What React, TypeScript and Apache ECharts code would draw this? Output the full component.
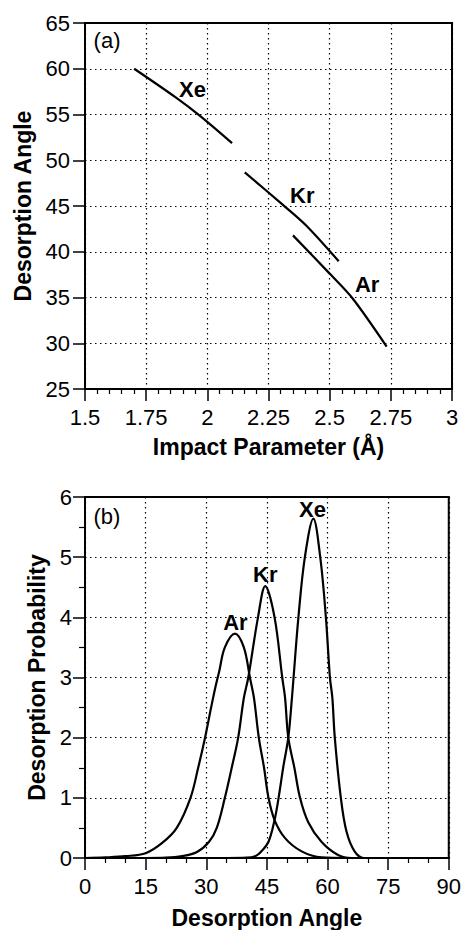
import React, { useEffect, useRef } from 'react';
import * as echarts from 'echarts';

// ---- Panel (a): desorption angle vs impact parameter ----
const impactTicks = [1.5, 1.75, 2, 2.25, 2.5, 2.75, 3];
const angleTicksA = [25, 30, 35, 40, 45, 50, 55, 60, 65];

const xeImpact = [1.701, 1.868, 1.97, 2.101];
const xeAngle = [60, 56.92, 54.85, 51.87];
const krImpact = [2.153, 2.309, 2.404, 2.537];
const krAngle = [48.68, 45.12, 42.87, 38.96];
const arImpact = [2.35, 2.5, 2.594, 2.733];
const arAngle = [41.79, 37.61, 34.89, 29.63];

const labelsA = ['(a)', 'Xe', 'Kr', 'Ar'];
const labelsAX = [1.59, 1.939, 2.388, 2.653];
const labelsAY = [63.04, 57.74, 46.2, 36.4];

// ---- Panel (b): desorption probability vs desorption angle ----
const angleTicksB = [0, 15, 30, 45, 60, 75, 90];
const probTicks = [0, 1, 2, 3, 4, 5, 6];

const arAngleB = [0, 5, 10, 15, 19.1, 22.7, 26.1, 28.0, 29.7, 31.2, 32.3, 33.2, 34.6, 37.1, 39.3, 40.8, 41.8, 43.0, 44.3, 45.4, 46.9, 49.5, 53.6, 58.5, 65, 90];
const arProb = [0, 0.01, 0.03, 0.08, 0.25, 0.5, 1.0, 1.5, 2.0, 2.5, 2.85, 3.1, 3.5, 3.73, 3.5, 3.0, 2.66, 2.0, 1.5, 1.0, 0.63, 0.33, 0.11, 0.01, 0, 0];

const krAngleB = [0, 15, 20, 24, 27.7, 30.7, 32.6, 34.6, 36.3, 37.9, 39.3, 40.4, 42.8, 44.6, 46.9, 48.8, 49.5, 50.3, 51.8, 53.2, 55.2, 58.5, 62.6, 66, 90];
const krProb = [0, 0, 0.005, 0.03, 0.1, 0.27, 0.5, 1.0, 1.5, 2.0, 2.66, 3.0, 4.0, 4.52, 4.0, 3.0, 2.66, 2.0, 1.5, 1.0, 0.6, 0.27, 0.05, 0, 0];

const xeAngleB = [0, 35, 40, 42.1, 43.5, 45.4, 46.9, 47.9, 49.1, 50.3, 51.2, 51.6, 52.8, 54.4, 56.5, 58.2, 59.6, 60.6, 61.2, 61.8, 63.3, 64.7, 66.7, 69, 90];
const xeProb = [0, 0, 0.005, 0.03, 0.1, 0.27, 0.63, 1.0, 1.53, 2.0, 2.66, 3.0, 4.0, 5.0, 5.64, 5.0, 4.0, 3.0, 2.66, 2.0, 1.0, 0.44, 0.11, 0, 0];

const labelsB = ['(b)', 'Ar', 'Kr', 'Xe'];
const labelsBX = [5.4, 37.2, 44.6, 56.3];
const labelsBY = [5.68, 3.92, 4.72, 5.8];

const FONT = '"Liberation Sans", Arial, Helvetica, sans-serif';

const zip = (xs: number[], ys: number[]) => xs.map((x, i) => [x, ys[i]]);

function axisCommon(ticks: number[], minorSplit: number, minorLen: number, labelMargin: number) {
  return {
    type: 'value',
    min: ticks[0],
    max: ticks[ticks.length - 1],
    interval: ticks[1] - ticks[0],
    axisLine: { show: true, onZero: false, lineStyle: { color: '#000', width: 2 } },
    axisTick: { show: true, length: 12, lineStyle: { color: '#000', width: 1.5 } },
    minorTick: { show: minorSplit > 0, splitNumber: minorSplit || 5, length: minorLen, lineStyle: { color: '#000', width: 1.2 } },
    axisLabel: { color: '#000', fontSize: 22, fontFamily: FONT, margin: labelMargin, formatter: (v: number) => String(v) },
    splitLine: { show: true, lineStyle: { color: '#000', width: 1.2, type: [1.5, 3.5] } },
    nameTextStyle: { color: '#000', fontSize: 23, fontWeight: 'bold', fontFamily: FONT },
    nameLocation: 'middle',
  };
}

function labelSeries(names: string[], xs: number[], ys: number[], xi: number) {
  return {
    type: 'scatter',
    xAxisIndex: xi,
    yAxisIndex: xi,
    symbolSize: 0,
    itemStyle: { color: '#000', opacity: 1 },
    silent: true,
    data: names.map((n, i) => ({
      name: n,
      value: [xs[i], ys[i]],
      label: { fontWeight: n.startsWith('(') ? 'normal' : 'bold' },
    })),
    label: {
      show: true,
      position: 'inside',
      formatter: (p: any) => p.name,
      color: '#000',
      opacity: 1,
      textBorderWidth: 0,
      textBorderColor: 'transparent',
      fontSize: 22,
      fontFamily: FONT,
    },
  };
}

function lineSeries(data: number[][], xi: number, smooth: number) {
  return {
    type: 'line',
    xAxisIndex: xi,
    yAxisIndex: xi,
    data,
    showSymbol: false,
    symbol: 'none',
    smooth,
    lineStyle: { color: '#000', width: 2.2 },
    silent: true,
  };
}

export default function App() {
  const ref = useRef<HTMLDivElement>(null);
  useEffect(() => {
    if (!ref.current) return;
    const chart = echarts.init(ref.current, undefined, { renderer: 'svg' });
    chart.setOption({
      animation: false,
      backgroundColor: '#fff',
      textStyle: { fontFamily: FONT },
      grid: [
        { left: 85, top: 23, width: 367, height: 366, show: true, borderColor: '#000', borderWidth: 2, backgroundColor: 'transparent' },
        { left: 85, top: 497, width: 366, height: 365, show: true, borderColor: '#000', borderWidth: 2, backgroundColor: 'transparent' },
      ],
      xAxis: [
        { ...axisCommon(impactTicks, 5, 5, 17), gridIndex: 0, name: 'Impact Parameter (Å)', nameGap: 46 },
        { ...axisCommon(angleTicksB, 3, 5, 17), gridIndex: 1, name: 'Desorption Angle', nameGap: 48 },
      ],
      yAxis: [
        { ...axisCommon(angleTicksA, 0, 5, 15), gridIndex: 0, name: 'Desorption Angle', nameGap: 50, nameRotate: 90 },
        { ...axisCommon(probTicks, 2, 6, 13), gridIndex: 1, name: 'Desorption Probability', nameGap: 37, nameRotate: 90 },
      ],
      series: [
        lineSeries(zip(xeImpact, xeAngle), 0, 0.3),
        lineSeries(zip(krImpact, krAngle), 0, 0.3),
        lineSeries(zip(arImpact, arAngle), 0, 0.3),
        lineSeries(zip(arAngleB, arProb), 1, 0.35),
        lineSeries(zip(krAngleB, krProb), 1, 0.35),
        lineSeries(zip(xeAngleB, xeProb), 1, 0.35),
        labelSeries(labelsA, labelsAX, labelsAY, 0),
        labelSeries(labelsB, labelsBX, labelsBY, 1),
      ],
    });
    return () => chart.dispose();
  }, []);
  return <div ref={ref} style={{ position: 'absolute', left: 0, top: 0, width: 464, height: 930 }} />;
}
